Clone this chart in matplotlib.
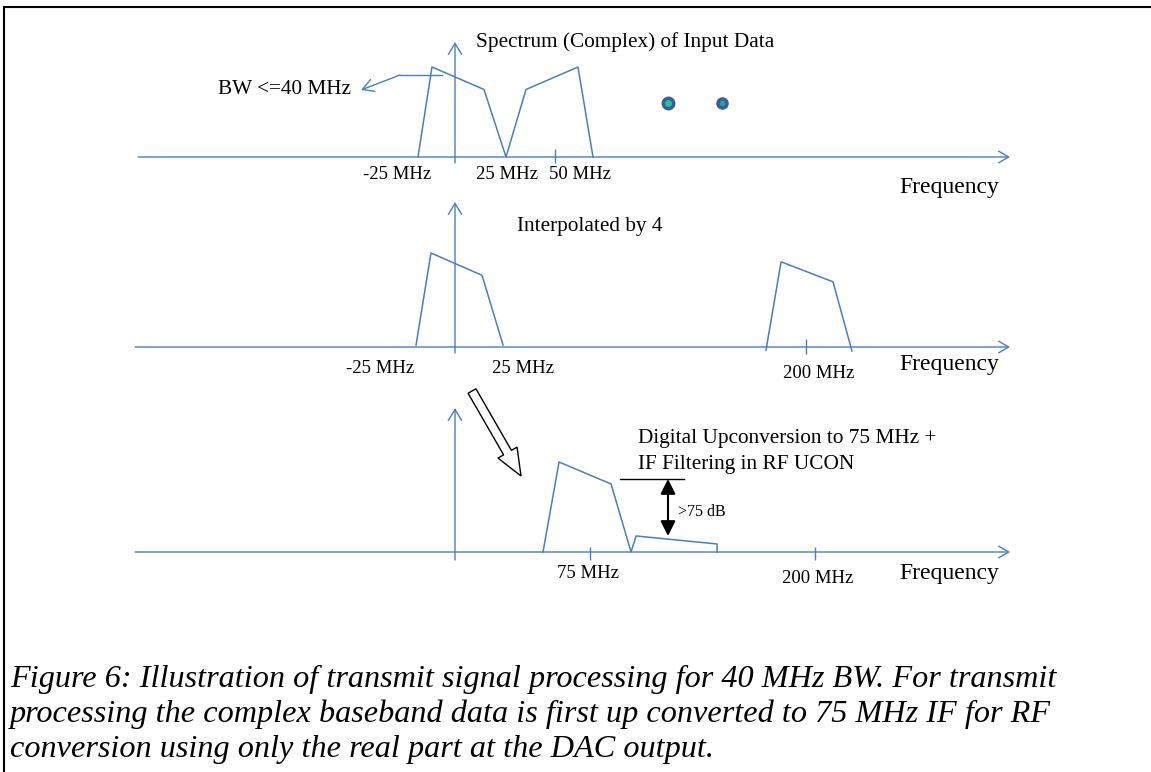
import matplotlib
matplotlib.use('Agg')
import matplotlib.pyplot as plt
from matplotlib.patches import FancyArrow

W, H = 1151, 772
BLUE = '#4a7ebb'
SERIF = 'Liberation Serif'

# ---------------- data (frequency in MHz, relative amplitude) ----------------
# Panel 1: complex input spectrum
p1_freq = [-18.5, -11.5, 14.5, 25.5, 35.5, 61.5, 69.0]
p1_amp = [0.0, 1.0, 0.75, 0.0, 0.75, 1.0, 0.0]
p1_dots_freq = [106.5, 133.5]
p1_dots_amp = [0.6, 0.6]
p1_ticks = [50]
p1_labels = ['-25 MHz', '25 MHz', '50 MHz']

# Panel 2: interpolated by 4
p2a_freq = [-22.2, -13.7, 15.4, 27.4]
p2a_amp = [0.01, 1.0, 0.76, 0.01]
p2b_freq = [177.2, 185.8, 215.4, 226.2]
p2b_amp = [-0.045, 0.905, 0.69, -0.055]
p2_ticks = [200]
p2_labels = ['-25 MHz', '25 MHz', '200 MHz']

# Panel 3: digital upconversion to 75 MHz
p3_freq = [48.9, 57.8, 86.7, 97.8, 100.6, 145.6, 145.6]
p3_amp = [0.0, 1.0, 0.756, 0.0, 0.178, 0.089, 0.0]
p3_ticks = [75, 200]
p3_labels = ['75 MHz', '200 MHz']

caption = ['Figure 6: Illustration of transmit signal processing for 40 MHz BW. For transmit',
           'processing the complex baseband data is first up converted to 75 MHz IF for RF',
           'conversion using only the real part at the DAC output.']

# ---------------- figure ----------------
fig = plt.figure(figsize=(W / 100, H / 100), dpi=100)
fig.patch.set_facecolor('white')
ov = fig.add_axes([0, 0, 1, 1])
ov.set_xlim(0, W)
ov.set_ylim(H, 0)
ov.axis('off')

ORIGIN = 455


def panel(baseline, unit, scale):
    ax = fig.add_axes([0, 0, 1, 1], facecolor='none')
    ax.set_xlim(-ORIGIN / scale, (W - ORIGIN) / scale)
    ax.set_ylim((baseline - H) / unit, baseline / unit)
    ax.axis('off')
    return ax


def haxis(y, x0=136, x1=1010):
    ov.annotate('', xy=(x1, y), xytext=(x0, y),
                arrowprops=dict(arrowstyle='->,head_length=0.72,head_width=0.42',
                                color=BLUE, lw=1.0, shrinkA=0, shrinkB=0,
                                mutation_scale=10))


def vaxis(y0, y1, x=ORIGIN):
    ov.annotate('', xy=(x, y1), xytext=(x, y0),
                arrowprops=dict(arrowstyle='->,head_length=0.8,head_width=0.48',
                                color=BLUE, lw=1.0, shrinkA=0, shrinkB=0,
                                mutation_scale=10))


def txt(x, y, s, size=15.3, ha='left', **kw):
    ov.text(x, y, s, fontsize=size, ha=ha, va='baseline', family=SERIF,
            color='black', **kw)


# border
ov.plot([4, W], [7, 7], color='black', lw=1.5, solid_capstyle='projecting')
ov.plot([4, 4], [7, H], color='black', lw=1.5, solid_capstyle='projecting')

# ---- Panel 1 ----
B1, U1, S1 = 157, 90, 2.0
ax1 = panel(B1, U1, S1)
haxis(B1, 138)
vaxis(163, 42)
ax1.plot(p1_freq, p1_amp, color=BLUE, lw=1.1)
ax1.vlines(p1_ticks, -6 / U1, 8 / U1, color=BLUE, lw=1.0)
ax1.plot(p1_dots_freq[:1], p1_dots_amp[:1], 'o', ms=7.5, mfc='#1fc49b', mec='#3a5f90', mew=2.5)
ax1.plot(p1_dots_freq[1:], p1_dots_amp[1:], 'o', ms=6.5, mfc='#1fa59b', mec='#3a5f90', mew=2.5)
for x, s in zip([397, 507, 580], p1_labels):
    txt(x, 179, s, size=13.5, ha='center')
txt(949, 193, 'Frequency', size=17, ha='center')
txt(476, 47, 'Spectrum (Complex) of Input Data')
txt(218, 94, 'BW <=40 MHz')
ov.plot([442, 400], [75, 75], color=BLUE, lw=1.0)
ov.annotate('', xy=(361, 90), xytext=(400, 75),
            arrowprops=dict(arrowstyle='->,head_length=0.8,head_width=0.45',
                            color=BLUE, lw=1.0, shrinkA=0, shrinkB=0, mutation_scale=10))

# ---- Panel 2 ----
B2, U2, S2 = 346, 93, 1.755
ax2 = panel(B2, U2, S2)
haxis(B2 + 1, 135)
vaxis(353, 202)
ax2.plot(p2a_freq, p2a_amp, color=BLUE, lw=1.1)
ax2.plot(p2b_freq, p2b_amp, color=BLUE, lw=1.1)
ax2.vlines(p2_ticks, -8 / U2, 7 / U2, color=BLUE, lw=1.0)
for x, y, s in zip([380, 523, 819], [373, 373, 378], p2_labels):
    txt(x, y, s, size=13.5, ha='center')
txt(949, 370, 'Frequency', size=17, ha='center')
txt(590, 231, 'Interpolated by 4', ha='center')

# ---- Panel 3 ----
B3, U3, S3 = 552, 90, 1.8
ax3 = panel(B3, U3, S3)
haxis(B3, 135)
vaxis(560, 408)
ax3.plot(p3_freq, p3_amp, color=BLUE, lw=1.1)
ax3.vlines(p3_ticks, -8 / U3, 5 / U3, color=BLUE, lw=1.0)
for x, y, s in zip([588, 818], [578, 583], p3_labels):
    txt(x, y, s, size=13.5, ha='center')
txt(949, 579, 'Frequency', size=17, ha='center')
txt(638, 443, 'Digital Upconversion to 75 MHz +')
txt(638, 469, 'IF Filtering in RF UCON')
txt(678, 516, '>75 dB', size=11.5)
ov.plot([620, 684], [479, 479], color='black', lw=1.0)
ov.annotate('', xy=(668, 536), xytext=(668, 479),
            arrowprops=dict(arrowstyle='<|-|>,head_length=0.9,head_width=0.45',
                            color='black', lw=1.5, shrinkA=0, shrinkB=0, mutation_scale=10))

# hollow arrow
ov.add_patch(FancyArrow(472, 391, 49, 85, width=9, head_width=22, head_length=27,
                        length_includes_head=True, fc='white', ec='black', lw=1.0))

# caption
for y, s in zip([687, 722, 757], caption):
    txt(10, y, s, size=23.2, style='italic')

fig.savefig('out.png', dpi=100, facecolor='white')
